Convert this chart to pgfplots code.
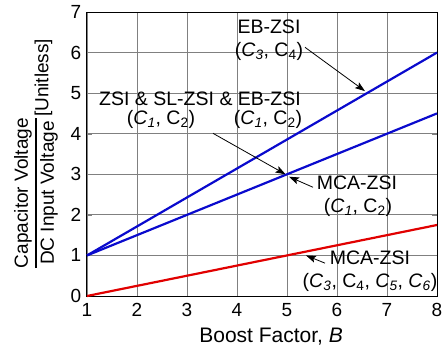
\documentclass[border=0pt]{standalone}
\usepackage{pgfplots}
\pgfplotsset{compat=1.18}
\usepackage{fontspec}
\setmainfont{Liberation Sans}
\usetikzlibrary{arrows.meta}
\definecolor{lblue}{RGB}{10,10,205}
\definecolor{lred}{RGB}{225,0,0}
\newcommand{\Ci}[1]{\textit{C}\textsubscript{\textit{#1}}}
\newcommand{\Cu}[1]{C\textsubscript{#1}}
\begin{document}
\fontsize{19.5}{23}\selectfont
\begin{tikzpicture}
\begin{axis}[
  scale only axis, width=350pt, height=284pt,
  xmin=1, xmax=8, ymin=0, ymax=7,
  xtick={1,2,3,4,5,6,7,8}, ytick={0,1,2,3,4,5,6,7},
  tick align=inside, major tick length=5pt,
  xmajorgrids=true, ymajorgrids=true,
  every axis x grid/.style={black!50, line width=0.8pt},
  every axis y grid/.style={black!50, line width=0.8pt},
  axis line style={line width=1pt},
  ticklabel style={font=\fontsize{19}{23}\selectfont},
  /pgf/number format/assume math mode=true,
  xticklabel style={yshift=-1pt},
  yticklabel style={xshift=1pt},
  xlabel={\fontsize{21}{25}\selectfont Boost Factor, \textit{B}},
  xlabel style={at={(axis description cs:0.526,0)}, anchor=base, yshift=-46pt},
  ylabel={\fontsize{19}{23}\selectfont$\displaystyle{\mbox{Capacitor Voltage}\above 1.2pt\mbox{DC Input Voltage}}$\raisebox{-8pt}{[Unitless]}},
  ylabel style={at={(axis description cs:0,0.5)}, anchor=center, yshift=51pt},
  clip=false,
]
\addplot[lblue, line width=2.2pt] coordinates {(1,1) (8,6)};
\addplot[lblue, line width=2.2pt] coordinates {(1,1) (8,4.5)};
\addplot[lred, line width=2.2pt] coordinates {(1,0) (8,1.75)};

% annotations
\node[align=center, inner sep=0pt] at (axis cs:4.64,6.3) {EB-ZSI\\(\Ci{3}, \Cu{4})};
\draw[line width=0.8pt, -{Stealth[length=10pt,width=7pt,inset=2pt]}] (axis cs:5.36,6.13) -- (axis cs:6.56,5.05);

\node[inner sep=0pt] at (axis cs:3.26,4.85) {ZSI \& SL-ZSI \& EB-ZSI};
\node[inner sep=0pt] at (axis cs:2.48,4.36) {(\Ci{1}, \Cu{2})};
\node[inner sep=0pt] at (axis cs:4.62,4.36) {(\Ci{1}, \Cu{2})};
\draw[line width=0.8pt, -{Stealth[length=10pt,width=7pt,inset=2pt]}] (axis cs:3.52,4.01) -- (axis cs:4.97,3.0);

\node[inner sep=0pt] at (axis cs:6.4,2.78) {MCA-ZSI};
\node[inner sep=0pt] at (axis cs:6.42,2.19) {(\Ci{1}, \Cu{2})};
\draw[line width=0.8pt, -{Stealth[length=10pt,width=7pt,inset=2pt]}] (axis cs:5.52,2.68) -- (axis cs:5.04,2.94);

\node[inner sep=0pt] at (axis cs:6.66,0.94) {MCA-ZSI};
\node[inner sep=0pt] at (axis cs:6.66,0.34) {(\Ci{3}, \Cu{4}, \Ci{5}, \Ci{6})};
\draw[line width=0.8pt, -{Stealth[length=10pt,width=7pt,inset=2pt]}] (axis cs:5.76,0.81) -- (axis cs:5.38,1.0);
\end{axis}
\pgfresetboundingbox
\path[use as bounding box] (-87pt,-55pt) rectangle (358pt,296pt);
\end{tikzpicture}
\end{document}
